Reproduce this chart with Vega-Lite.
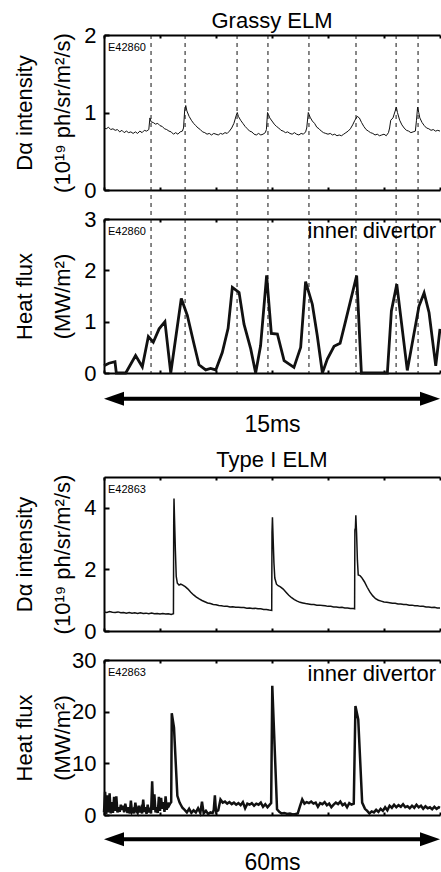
{
"$schema":"https://vega.github.io/schema/vega-lite/v6.json",
"padding":{"left":13,"top":10,"right":0,"bottom":0},
"bounds":"flush",
"spacing":29,
"config":{
"font":"Liberation Sans",
"view":{"stroke":null},
"axis":{"domainColor":"#000","domainWidth":2,"tickColor":"#000","tickWidth":2,"labelColor":"#000","labelFontSize":22,"labelFont":"Liberation Sans","titleFont":"Liberation Sans","titleFontSize":22,"titleFontWeight":"normal","titleColor":"#000","grid":false},
"title":{"fontSize":22,"fontWeight":"normal","color":"#000","font":"Liberation Sans","frame":"group","baseline":"alphabetic"}
},
"datasets":{
"g_da":[{"t":0,"v":0.8},{"t":0.1,"v":0.79},{"t":0.2,"v":0.81},{"t":0.3,"v":0.78},{"t":0.4,"v":0.79},{"t":0.5,"v":0.77},{"t":0.6,"v":0.78},{"t":0.7,"v":0.75},{"t":0.8,"v":0.77},{"t":0.9,"v":0.74},{"t":1,"v":0.76},{"t":1.1,"v":0.74},{"t":1.2,"v":0.75},{"t":1.3,"v":0.73},{"t":1.4,"v":0.75},{"t":1.5,"v":0.73},{"t":1.6,"v":0.76},{"t":1.7,"v":0.74},{"t":1.8,"v":0.77},{"t":1.9,"v":0.76},{"t":2,"v":0.78},{"t":2.05,"v":0.93},{"t":2.1,"v":0.88},{"t":2.2,"v":0.87},{"t":2.3,"v":0.85},{"t":2.4,"v":0.86},{"t":2.5,"v":0.83},{"t":2.6,"v":0.82},{"t":2.7,"v":0.79},{"t":2.8,"v":0.78},{"t":2.9,"v":0.76},{"t":3,"v":0.75},{"t":3.1,"v":0.72},{"t":3.2,"v":0.74},{"t":3.3,"v":0.72},{"t":3.4,"v":0.75},{"t":3.5,"v":0.76},{"t":3.55,"v":0.8},{"t":3.6,"v":1.02},{"t":3.65,"v":1.09},{"t":3.7,"v":1.02},{"t":3.8,"v":0.95},{"t":3.9,"v":0.9},{"t":4,"v":0.86},{"t":4.1,"v":0.83},{"t":4.2,"v":0.8},{"t":4.3,"v":0.78},{"t":4.4,"v":0.75},{"t":4.5,"v":0.74},{"t":4.6,"v":0.72},{"t":4.7,"v":0.73},{"t":4.8,"v":0.71},{"t":4.9,"v":0.73},{"t":5,"v":0.72},{"t":5.1,"v":0.71},{"t":5.2,"v":0.73},{"t":5.3,"v":0.72},{"t":5.4,"v":0.74},{"t":5.5,"v":0.73},{"t":5.6,"v":0.76},{"t":5.7,"v":0.8},{"t":5.8,"v":0.86},{"t":5.9,"v":0.96},{"t":5.95,"v":1.0},{"t":6,"v":0.95},{"t":6.1,"v":0.9},{"t":6.2,"v":0.86},{"t":6.3,"v":0.82},{"t":6.4,"v":0.79},{"t":6.5,"v":0.76},{"t":6.6,"v":0.75},{"t":6.7,"v":0.72},{"t":6.8,"v":0.71},{"t":6.9,"v":0.73},{"t":7,"v":0.71},{"t":7.1,"v":0.72},{"t":7.2,"v":0.74},{"t":7.25,"v":0.78},{"t":7.3,"v":1.0},{"t":7.35,"v":0.97},{"t":7.4,"v":0.93},{"t":7.5,"v":0.89},{"t":7.6,"v":0.85},{"t":7.7,"v":0.82},{"t":7.8,"v":0.8},{"t":7.9,"v":0.77},{"t":8,"v":0.76},{"t":8.1,"v":0.74},{"t":8.2,"v":0.75},{"t":8.3,"v":0.73},{"t":8.4,"v":0.72},{"t":8.5,"v":0.74},{"t":8.6,"v":0.72},{"t":8.7,"v":0.71},{"t":8.8,"v":0.73},{"t":8.9,"v":0.72},{"t":9,"v":0.75},{"t":9.05,"v":0.8},{"t":9.12,"v":1.0},{"t":9.2,"v":0.94},{"t":9.3,"v":0.89},{"t":9.4,"v":0.86},{"t":9.5,"v":0.81},{"t":9.6,"v":0.79},{"t":9.7,"v":0.76},{"t":9.8,"v":0.74},{"t":9.9,"v":0.73},{"t":10,"v":0.72},{"t":10.1,"v":0.73},{"t":10.2,"v":0.71},{"t":10.3,"v":0.72},{"t":10.4,"v":0.7},{"t":10.5,"v":0.71},{"t":10.6,"v":0.7},{"t":10.7,"v":0.72},{"t":10.8,"v":0.74},{"t":10.9,"v":0.76},{"t":11,"v":0.79},{"t":11.1,"v":0.84},{"t":11.2,"v":0.9},{"t":11.3,"v":0.95},{"t":11.4,"v":0.93},{"t":11.5,"v":0.87},{"t":11.6,"v":0.82},{"t":11.7,"v":0.78},{"t":11.8,"v":0.76},{"t":11.9,"v":0.74},{"t":12,"v":0.73},{"t":12.1,"v":0.71},{"t":12.2,"v":0.72},{"t":12.3,"v":0.7},{"t":12.4,"v":0.71},{"t":12.5,"v":0.72},{"t":12.6,"v":0.7},{"t":12.7,"v":0.74},{"t":12.75,"v":0.8},{"t":12.8,"v":0.9},{"t":12.9,"v":0.93},{"t":13,"v":1.02},{"t":13.05,"v":1.07},{"t":13.1,"v":1.0},{"t":13.2,"v":0.9},{"t":13.3,"v":0.84},{"t":13.4,"v":0.8},{"t":13.5,"v":0.77},{"t":13.6,"v":0.76},{"t":13.7,"v":0.74},{"t":13.8,"v":0.75},{"t":13.9,"v":0.76},{"t":13.95,"v":0.9},{"t":14,"v":1.07},{"t":14.05,"v":1.0},{"t":14.1,"v":0.93},{"t":14.2,"v":0.87},{"t":14.3,"v":0.83},{"t":14.4,"v":0.8},{"t":14.5,"v":0.79},{"t":14.6,"v":0.77},{"t":14.7,"v":0.78},{"t":14.8,"v":0.76},{"t":14.9,"v":0.77},{"t":15,"v":0.76}],
"g_hf":[{"t":0,"v":0.14},{"t":0.22,"v":0.19},{"t":0.49,"v":0.22},{"t":0.55,"v":0},{"t":0.97,"v":0},{"t":1.41,"v":0.34},{"t":1.71,"v":0.12},{"t":1.98,"v":0.71},{"t":2.2,"v":0.6},{"t":2.46,"v":0.86},{"t":2.72,"v":1.0},{"t":2.98,"v":0},{"t":3.45,"v":1.45},{"t":3.72,"v":1.12},{"t":4.02,"v":0.56},{"t":4.24,"v":0.16},{"t":4.54,"v":0.06},{"t":4.76,"v":0.09},{"t":4.99,"v":0.06},{"t":5.28,"v":0.4},{"t":5.54,"v":0.87},{"t":5.73,"v":1.67},{"t":6.03,"v":1.57},{"t":6.25,"v":0.95},{"t":6.55,"v":0.47},{"t":6.77,"v":0},{"t":6.99,"v":0.53},{"t":7.26,"v":1.9},{"t":7.47,"v":0.77},{"t":7.74,"v":0.76},{"t":8.04,"v":0.24},{"t":8.48,"v":0.11},{"t":8.78,"v":0.5},{"t":9.0,"v":1.78},{"t":9.3,"v":1.34},{"t":9.52,"v":0.73},{"t":9.75,"v":0},{"t":9.97,"v":0.27},{"t":10.27,"v":0.52},{"t":10.54,"v":0.58},{"t":10.79,"v":1.02},{"t":11.28,"v":1.9},{"t":11.49,"v":0},{"t":12.65,"v":0},{"t":12.83,"v":1.21},{"t":13.07,"v":1.73},{"t":13.54,"v":0.05},{"t":14.06,"v":1.3},{"t":14.29,"v":1.56},{"t":14.51,"v":1.18},{"t":14.81,"v":0.14},{"t":15,"v":0.86}],
"g_elm":[{"t":2.1},{"t":3.62},{"t":5.94},{"t":7.32},{"t":9.15},{"t":11.25},{"t":13.04},{"t":14.02}],
"t_da":[{"t":0,"v":0.62},{"t":0.5,"v":0.6},{"t":1,"v":0.63},{"t":1.5,"v":0.61},{"t":2,"v":0.6},{"t":2.5,"v":0.62},{"t":3,"v":0.59},{"t":3.5,"v":0.6},{"t":4,"v":0.58},{"t":4.5,"v":0.6},{"t":5,"v":0.58},{"t":5.5,"v":0.59},{"t":6,"v":0.57},{"t":6.5,"v":0.59},{"t":7,"v":0.57},{"t":7.5,"v":0.58},{"t":8,"v":0.56},{"t":8.5,"v":0.58},{"t":9,"v":0.56},{"t":9.5,"v":0.57},{"t":10,"v":0.55},{"t":10.5,"v":0.57},{"t":11,"v":0.55},{"t":11.5,"v":0.56},{"t":12,"v":0.54},{"t":12.4,"v":0.56},{"t":12.45,"v":3.5},{"t":12.5,"v":4.3},{"t":12.6,"v":3.6},{"t":12.75,"v":2.6},{"t":12.9,"v":1.77},{"t":13.1,"v":1.55},{"t":13.4,"v":1.49},{"t":13.7,"v":1.52},{"t":14,"v":1.5},{"t":14.5,"v":1.44},{"t":15,"v":1.36},{"t":15.5,"v":1.26},{"t":16,"v":1.17},{"t":16.5,"v":1.1},{"t":17,"v":1.04},{"t":17.5,"v":0.99},{"t":18,"v":0.95},{"t":18.5,"v":0.91},{"t":19,"v":0.89},{"t":19.5,"v":0.86},{"t":20,"v":0.85},{"t":20.5,"v":0.83},{"t":21,"v":0.82},{"t":21.5,"v":0.8},{"t":22,"v":0.8},{"t":22.5,"v":0.78},{"t":23,"v":0.79},{"t":23.5,"v":0.77},{"t":24,"v":0.77},{"t":24.5,"v":0.76},{"t":25,"v":0.76},{"t":25.5,"v":0.74},{"t":26,"v":0.75},{"t":26.5,"v":0.73},{"t":27,"v":0.74},{"t":27.5,"v":0.72},{"t":28,"v":0.72},{"t":28.5,"v":0.7},{"t":29,"v":0.7},{"t":29.5,"v":0.68},{"t":29.95,"v":0.67},{"t":30,"v":3.2},{"t":30.08,"v":3.69},{"t":30.2,"v":3.0},{"t":30.35,"v":2.2},{"t":30.5,"v":1.72},{"t":30.8,"v":1.52},{"t":31.1,"v":1.47},{"t":31.5,"v":1.43},{"t":32,"v":1.36},{"t":32.5,"v":1.26},{"t":33,"v":1.16},{"t":33.5,"v":1.08},{"t":34,"v":1.02},{"t":34.5,"v":0.97},{"t":35,"v":0.93},{"t":35.5,"v":0.91},{"t":36,"v":0.89},{"t":36.5,"v":0.88},{"t":37,"v":0.86},{"t":37.5,"v":0.86},{"t":38,"v":0.84},{"t":38.5,"v":0.84},{"t":39,"v":0.83},{"t":39.5,"v":0.82},{"t":40,"v":0.8},{"t":40.5,"v":0.8},{"t":41,"v":0.78},{"t":41.5,"v":0.78},{"t":42,"v":0.76},{"t":42.5,"v":0.77},{"t":43,"v":0.75},{"t":43.5,"v":0.75},{"t":44,"v":0.73},{"t":44.5,"v":0.73},{"t":44.75,"v":0.72},{"t":44.8,"v":3.28},{"t":44.9,"v":3.35},{"t":44.97,"v":3.76},{"t":45.1,"v":3.2},{"t":45.25,"v":2.3},{"t":45.4,"v":1.82},{"t":45.7,"v":1.8},{"t":46,"v":1.74},{"t":46.5,"v":1.6},{"t":47,"v":1.42},{"t":47.5,"v":1.26},{"t":48,"v":1.14},{"t":48.5,"v":1.05},{"t":49,"v":1.0},{"t":49.5,"v":0.97},{"t":50,"v":0.94},{"t":50.5,"v":0.93},{"t":51,"v":0.92},{"t":51.5,"v":0.9},{"t":52,"v":0.9},{"t":52.5,"v":0.88},{"t":53,"v":0.88},{"t":53.5,"v":0.86},{"t":54,"v":0.86},{"t":54.5,"v":0.84},{"t":55,"v":0.84},{"t":55.5,"v":0.82},{"t":56,"v":0.82},{"t":56.5,"v":0.8},{"t":57,"v":0.8},{"t":57.5,"v":0.78},{"t":58,"v":0.78},{"t":58.5,"v":0.76},{"t":59,"v":0.77},{"t":59.5,"v":0.75},{"t":60,"v":0.75}],
"t_hf":[{"t":0,"v":0.5},{"t":0.2,"v":4.5},{"t":0.4,"v":0.2},{"t":0.6,"v":3.8},{"t":0.8,"v":0.5},{"t":1,"v":4.2},{"t":1.2,"v":0.3},{"t":1.4,"v":2.5},{"t":1.6,"v":0.4},{"t":1.8,"v":3.5},{"t":2,"v":0.8},{"t":2.2,"v":3.6},{"t":2.4,"v":0.5},{"t":2.6,"v":1.5},{"t":2.8,"v":0.6},{"t":3,"v":2.0},{"t":3.2,"v":1.0},{"t":3.4,"v":1.8},{"t":3.6,"v":0.5},{"t":3.8,"v":2.2},{"t":4,"v":1.1},{"t":4.2,"v":0.4},{"t":4.4,"v":1.5},{"t":4.6,"v":0.3},{"t":4.8,"v":2.8},{"t":5,"v":0.6},{"t":5.2,"v":1.0},{"t":5.4,"v":0.3},{"t":5.6,"v":2.4},{"t":5.8,"v":0.8},{"t":6,"v":0.4},{"t":6.2,"v":1.8},{"t":6.4,"v":0.5},{"t":6.6,"v":1.2},{"t":6.8,"v":0.3},{"t":7,"v":3.0},{"t":7.2,"v":0.6},{"t":7.4,"v":1.5},{"t":7.6,"v":0.2},{"t":7.8,"v":2.0},{"t":8,"v":0.5},{"t":8.2,"v":1.4},{"t":8.4,"v":0.3},{"t":8.6,"v":6.5},{"t":8.8,"v":1.0},{"t":9,"v":4.0},{"t":9.2,"v":0.5},{"t":9.4,"v":1.5},{"t":9.6,"v":0.4},{"t":9.8,"v":3.5},{"t":10,"v":0.8},{"t":10.2,"v":3.3},{"t":10.4,"v":1.2},{"t":10.6,"v":2.5},{"t":10.8,"v":0.6},{"t":11,"v":3.6},{"t":11.2,"v":1.0},{"t":11.4,"v":2.4},{"t":11.6,"v":1.8},{"t":11.8,"v":2.2},{"t":12,"v":2.5},{"t":12.1,"v":19.7},{"t":12.5,"v":16.9},{"t":13.1,"v":3.7},{"t":13.5,"v":2.4},{"t":14,"v":1.4},{"t":14.4,"v":1.0},{"t":14.8,"v":0.5},{"t":15.2,"v":1.2},{"t":15.6,"v":0.4},{"t":16,"v":0.9},{"t":16.4,"v":0.5},{"t":16.8,"v":1.3},{"t":17.2,"v":0.4},{"t":17.5,"v":2.6},{"t":17.8,"v":0.3},{"t":18.2,"v":0.8},{"t":18.6,"v":0.2},{"t":19,"v":0.5},{"t":19.4,"v":0.4},{"t":19.6,"v":1.0},{"t":19.8,"v":3.8},{"t":20,"v":0.6},{"t":20.4,"v":0.9},{"t":20.8,"v":3.0},{"t":21.2,"v":2.4},{"t":21.6,"v":2.6},{"t":22,"v":2.2},{"t":22.4,"v":2.5},{"t":22.8,"v":2.1},{"t":23.2,"v":2.4},{"t":23.6,"v":2.0},{"t":24,"v":2.3},{"t":24.4,"v":1.9},{"t":24.8,"v":2.5},{"t":25.2,"v":1.3},{"t":25.6,"v":2.2},{"t":26,"v":2.0},{"t":26.4,"v":2.3},{"t":26.8,"v":1.8},{"t":27.2,"v":2.2},{"t":27.6,"v":2.0},{"t":28,"v":2.4},{"t":28.4,"v":1.6},{"t":28.8,"v":2.1},{"t":29.2,"v":1.5},{"t":29.6,"v":2.0},{"t":29.85,"v":2.3},{"t":30.05,"v":25.0},{"t":30.3,"v":18.0},{"t":30.9,"v":1.1},{"t":31.3,"v":0.6},{"t":31.7,"v":0.3},{"t":32.2,"v":0.4},{"t":32.7,"v":0.2},{"t":33.2,"v":0.3},{"t":33.7,"v":0.1},{"t":34.2,"v":0.2},{"t":34.6,"v":0.3},{"t":35,"v":1.7},{"t":35.4,"v":3.0},{"t":35.8,"v":2.2},{"t":36.2,"v":2.5},{"t":36.6,"v":2.3},{"t":37,"v":2.6},{"t":37.4,"v":2.2},{"t":37.8,"v":2.4},{"t":38.2,"v":1.6},{"t":38.6,"v":2.3},{"t":39,"v":2.1},{"t":39.4,"v":2.5},{"t":39.8,"v":1.9},{"t":40.2,"v":2.2},{"t":40.6,"v":1.5},{"t":41,"v":2.0},{"t":41.4,"v":2.4},{"t":41.8,"v":2.1},{"t":42.2,"v":2.6},{"t":42.6,"v":1.9},{"t":43,"v":2.2},{"t":43.4,"v":1.5},{"t":43.8,"v":2.3},{"t":44.2,"v":2.0},{"t":44.6,"v":2.2},{"t":44.9,"v":21.1},{"t":45.4,"v":18.5},{"t":46.1,"v":2.4},{"t":46.6,"v":1.2},{"t":47,"v":0.8},{"t":47.4,"v":0.3},{"t":47.8,"v":0.7},{"t":48.2,"v":0.5},{"t":48.6,"v":1.0},{"t":49,"v":0.6},{"t":49.4,"v":1.2},{"t":49.8,"v":0.8},{"t":50.2,"v":1.5},{"t":50.6,"v":0.9},{"t":51,"v":1.8},{"t":51.4,"v":1.4},{"t":51.8,"v":2.0},{"t":52.2,"v":1.5},{"t":52.6,"v":1.9},{"t":53,"v":1.6},{"t":53.4,"v":2.1},{"t":53.8,"v":1.5},{"t":54.2,"v":1.7},{"t":54.6,"v":1.3},{"t":55,"v":1.8},{"t":55.4,"v":1.4},{"t":55.8,"v":2.0},{"t":56.2,"v":1.5},{"t":56.6,"v":1.8},{"t":57,"v":1.2},{"t":57.4,"v":1.7},{"t":57.8,"v":1.3},{"t":58.2,"v":1.5},{"t":58.6,"v":1.1},{"t":59,"v":1.6},{"t":59.4,"v":1.2},{"t":59.8,"v":1.5},{"t":60,"v":1.4}]
},
"vconcat":[
{"width":336,"height":155,"title":{"text":"Grassy ELM","offset":-9},
"layer":[
{"data":{"name":"g_da"},"mark":{"type":"line","color":"#111","strokeWidth":1},
"encoding":{"x":{"field":"t","type":"quantitative","scale":{"domain":[0,15],"nice":false,"zero":false},"axis":{"orient":"bottom","values":[0,2.5,5,7.5,10,12.5,15],"labels":false,"tickSize":-3,"title":null}},
"y":{"field":"v","type":"quantitative","scale":{"domain":[0,2],"nice":false},"axis":{"values":[0,0.5,1,1.5,2],"labelExpr":"datum.value % 1 === 0 ? format(datum.value, 'd') : ''","tickSize":-5,"labelPadding":13,"title":["Dα intensity","(10¹⁹ ph/sr/m²/s)"],"titleX":-73,"titleBaseline":"alphabetic","titleLineHeight":38}}}},
{"data":{"name":"g_elm"},"mark":{"type":"rule","color":"#111","strokeWidth":1,"strokeDash":[4,4]},
"encoding":{"x":{"field":"t","type":"quantitative","axis":null},"y":{"datum":2},"y2":{"datum":-0.375}}},
{"data":{"values":[{"s":"E42860"}]},"mark":{"type":"text","align":"left","baseline":"top","fontSize":11,"dx":4,"dy":7,"color":"#000"},
"encoding":{"text":{"field":"s"},"x":{"datum":0,"type":"quantitative","axis":{"orient":"top","values":[0,2.5,5,7.5,10,12.5,15],"labels":false,"tickSize":-3,"title":null}},"y":{"datum":2,"type":"quantitative"}}}
]},
{"width":336,"height":154,
"layer":[
{"data":{"name":"g_hf"},"mark":{"type":"line","color":"#111","strokeWidth":2.8,"strokeJoin":"miter"},
"encoding":{"x":{"field":"t","type":"quantitative","scale":{"domain":[0,15],"nice":false,"zero":false},"axis":{"orient":"bottom","values":[0,2.5,5,7.5,10,12.5,15],"labels":false,"tickSize":-3,"title":"15ms","titleFontSize":23,"titlePadding":39}},
"y":{"field":"v","type":"quantitative","scale":{"domain":[0,3],"nice":false},"axis":{"values":[0,0.5,1,1.5,2,2.5,3],"labelExpr":"datum.value % 1 === 0 ? format(datum.value, 'd') : ''","tickSize":-5,"labelPadding":13,"title":["Heat flux","(MW/m²)"],"titleX":-73,"titleBaseline":"alphabetic","titleLineHeight":38}}}},
{"data":{"name":"g_elm"},"mark":{"type":"rule","color":"#111","strokeWidth":1,"strokeDash":[4,4]},
"encoding":{"x":{"field":"t","type":"quantitative","axis":null}}},
{"data":{"values":[{"s":"E42860"}]},"mark":{"type":"text","align":"left","baseline":"top","fontSize":11,"dx":4,"dy":7,"color":"#000"},
"encoding":{"text":{"field":"s"},"x":{"datum":0,"type":"quantitative","axis":{"orient":"top","values":[0,2.5,5,7.5,10,12.5,15],"labels":false,"tickSize":-3,"title":null}},"y":{"datum":3,"type":"quantitative"}}},
{"data":{"values":[{"s":"inner divertor"}]},"mark":{"type":"text","align":"right","baseline":"top","fontSize":22,"dx":-4,"dy":2,"color":"#000"},
"encoding":{"text":{"field":"s"},"x":{"datum":15,"type":"quantitative","axis":null},"y":{"datum":3,"type":"quantitative"}}},
{"data":{"values":[{"a":0.4,"b":14.6,"y":-0.5}]},"mark":{"type":"rule","color":"#000","strokeWidth":4},
"encoding":{"x":{"field":"a","type":"quantitative","axis":null},"x2":{"field":"b"},"y":{"field":"y","type":"quantitative"}}},
{"data":{"values":[{"t":0,"y":-0.5,"d":"L"},{"t":15,"y":-0.5,"d":"R"}]},"mark":{"type":"point","filled":true,"color":"#000","opacity":1,"size":400},
"encoding":{"x":{"field":"t","type":"quantitative","axis":null},"y":{"field":"y","type":"quantitative"},"shape":{"field":"d","type":"nominal","scale":{"domain":["L","R"],"range":["M0,0L2,-0.7L2,0.7Z","M0,0L-2,-0.7L-2,0.7Z"]},"legend":null}}}
]},
{"width":336,"height":46,"data":{"values":[{"a":0}]},"mark":{"type":"point","opacity":0},"encoding":{}},
{"width":336,"height":154,"title":{"text":"Type I ELM","offset":2},
"layer":[
{"data":{"name":"t_da"},"mark":{"type":"line","color":"#111","strokeWidth":1.5},
"encoding":{"x":{"field":"t","type":"quantitative","scale":{"domain":[0,60],"nice":false,"zero":false},"axis":{"orient":"bottom","values":[0,10,20,30,40,50,60],"labels":false,"tickSize":-3,"title":null}},
"y":{"field":"v","type":"quantitative","scale":{"domain":[0,5],"nice":false},"axis":{"values":[0,1,2,3,4],"labelExpr":"datum.value % 2 === 0 ? format(datum.value, 'd') : ''","tickSize":-5,"labelPadding":13,"title":["Dα intensity","(10¹⁹ ph/sr/m²/s)"],"titleX":-73,"titleBaseline":"alphabetic","titleLineHeight":38}}}},
{"data":{"values":[{"s":"E42863"}]},"mark":{"type":"text","align":"left","baseline":"top","fontSize":11,"dx":4,"dy":7,"color":"#000"},
"encoding":{"text":{"field":"s"},"x":{"datum":0,"type":"quantitative","axis":{"orient":"top","values":[0,10,20,30,40,50,60],"labels":false,"tickSize":-3,"title":null}},"y":{"datum":5,"type":"quantitative"}}}
]},
{"width":336,"height":155,
"layer":[
{"data":{"name":"t_hf"},"mark":{"type":"line","color":"#111","strokeWidth":2.5,"strokeJoin":"miter"},
"encoding":{"x":{"field":"t","type":"quantitative","scale":{"domain":[0,60],"nice":false,"zero":false},"axis":{"orient":"bottom","values":[0,10,20,30,40,50,60],"labels":false,"tickSize":-3,"title":"60ms","titleFontSize":23,"titlePadding":35}},
"y":{"field":"v","type":"quantitative","scale":{"domain":[0,30],"nice":false},"axis":{"values":[0,5,10,15,20,25,30],"labelExpr":"datum.value % 10 === 0 ? format(datum.value, 'd') : ''","tickSize":-5,"labelPadding":13,"title":["Heat flux","(MW/m²)"],"titleX":-73,"titleBaseline":"alphabetic","titleLineHeight":38}}}},
{"data":{"values":[{"s":"E42863"}]},"mark":{"type":"text","align":"left","baseline":"top","fontSize":11,"dx":4,"dy":7,"color":"#000"},
"encoding":{"text":{"field":"s"},"x":{"datum":0,"type":"quantitative","axis":{"orient":"top","values":[0,10,20,30,40,50,60],"labels":false,"tickSize":-3,"title":null}},"y":{"datum":30,"type":"quantitative"}}},
{"data":{"values":[{"s":"inner divertor"}]},"mark":{"type":"text","align":"right","baseline":"top","fontSize":22,"dx":-4,"dy":4,"color":"#000"},
"encoding":{"text":{"field":"s"},"x":{"datum":60,"type":"quantitative","axis":null},"y":{"datum":30,"type":"quantitative"}}},
{"data":{"values":[{"a":1.6,"b":58.4,"y":-4.7}]},"mark":{"type":"rule","color":"#000","strokeWidth":4},
"encoding":{"x":{"field":"a","type":"quantitative","axis":null},"x2":{"field":"b"},"y":{"field":"y","type":"quantitative"}}},
{"data":{"values":[{"t":0,"y":-4.7,"d":"L"},{"t":60,"y":-4.7,"d":"R"}]},"mark":{"type":"point","filled":true,"color":"#000","opacity":1,"size":400},
"encoding":{"x":{"field":"t","type":"quantitative","axis":null},"y":{"field":"y","type":"quantitative"},"shape":{"field":"d","type":"nominal","scale":{"domain":["L","R"],"range":["M0,0L2,-0.7L2,0.7Z","M0,0L-2,-0.7L-2,0.7Z"]},"legend":null}}}
]}
]
}
